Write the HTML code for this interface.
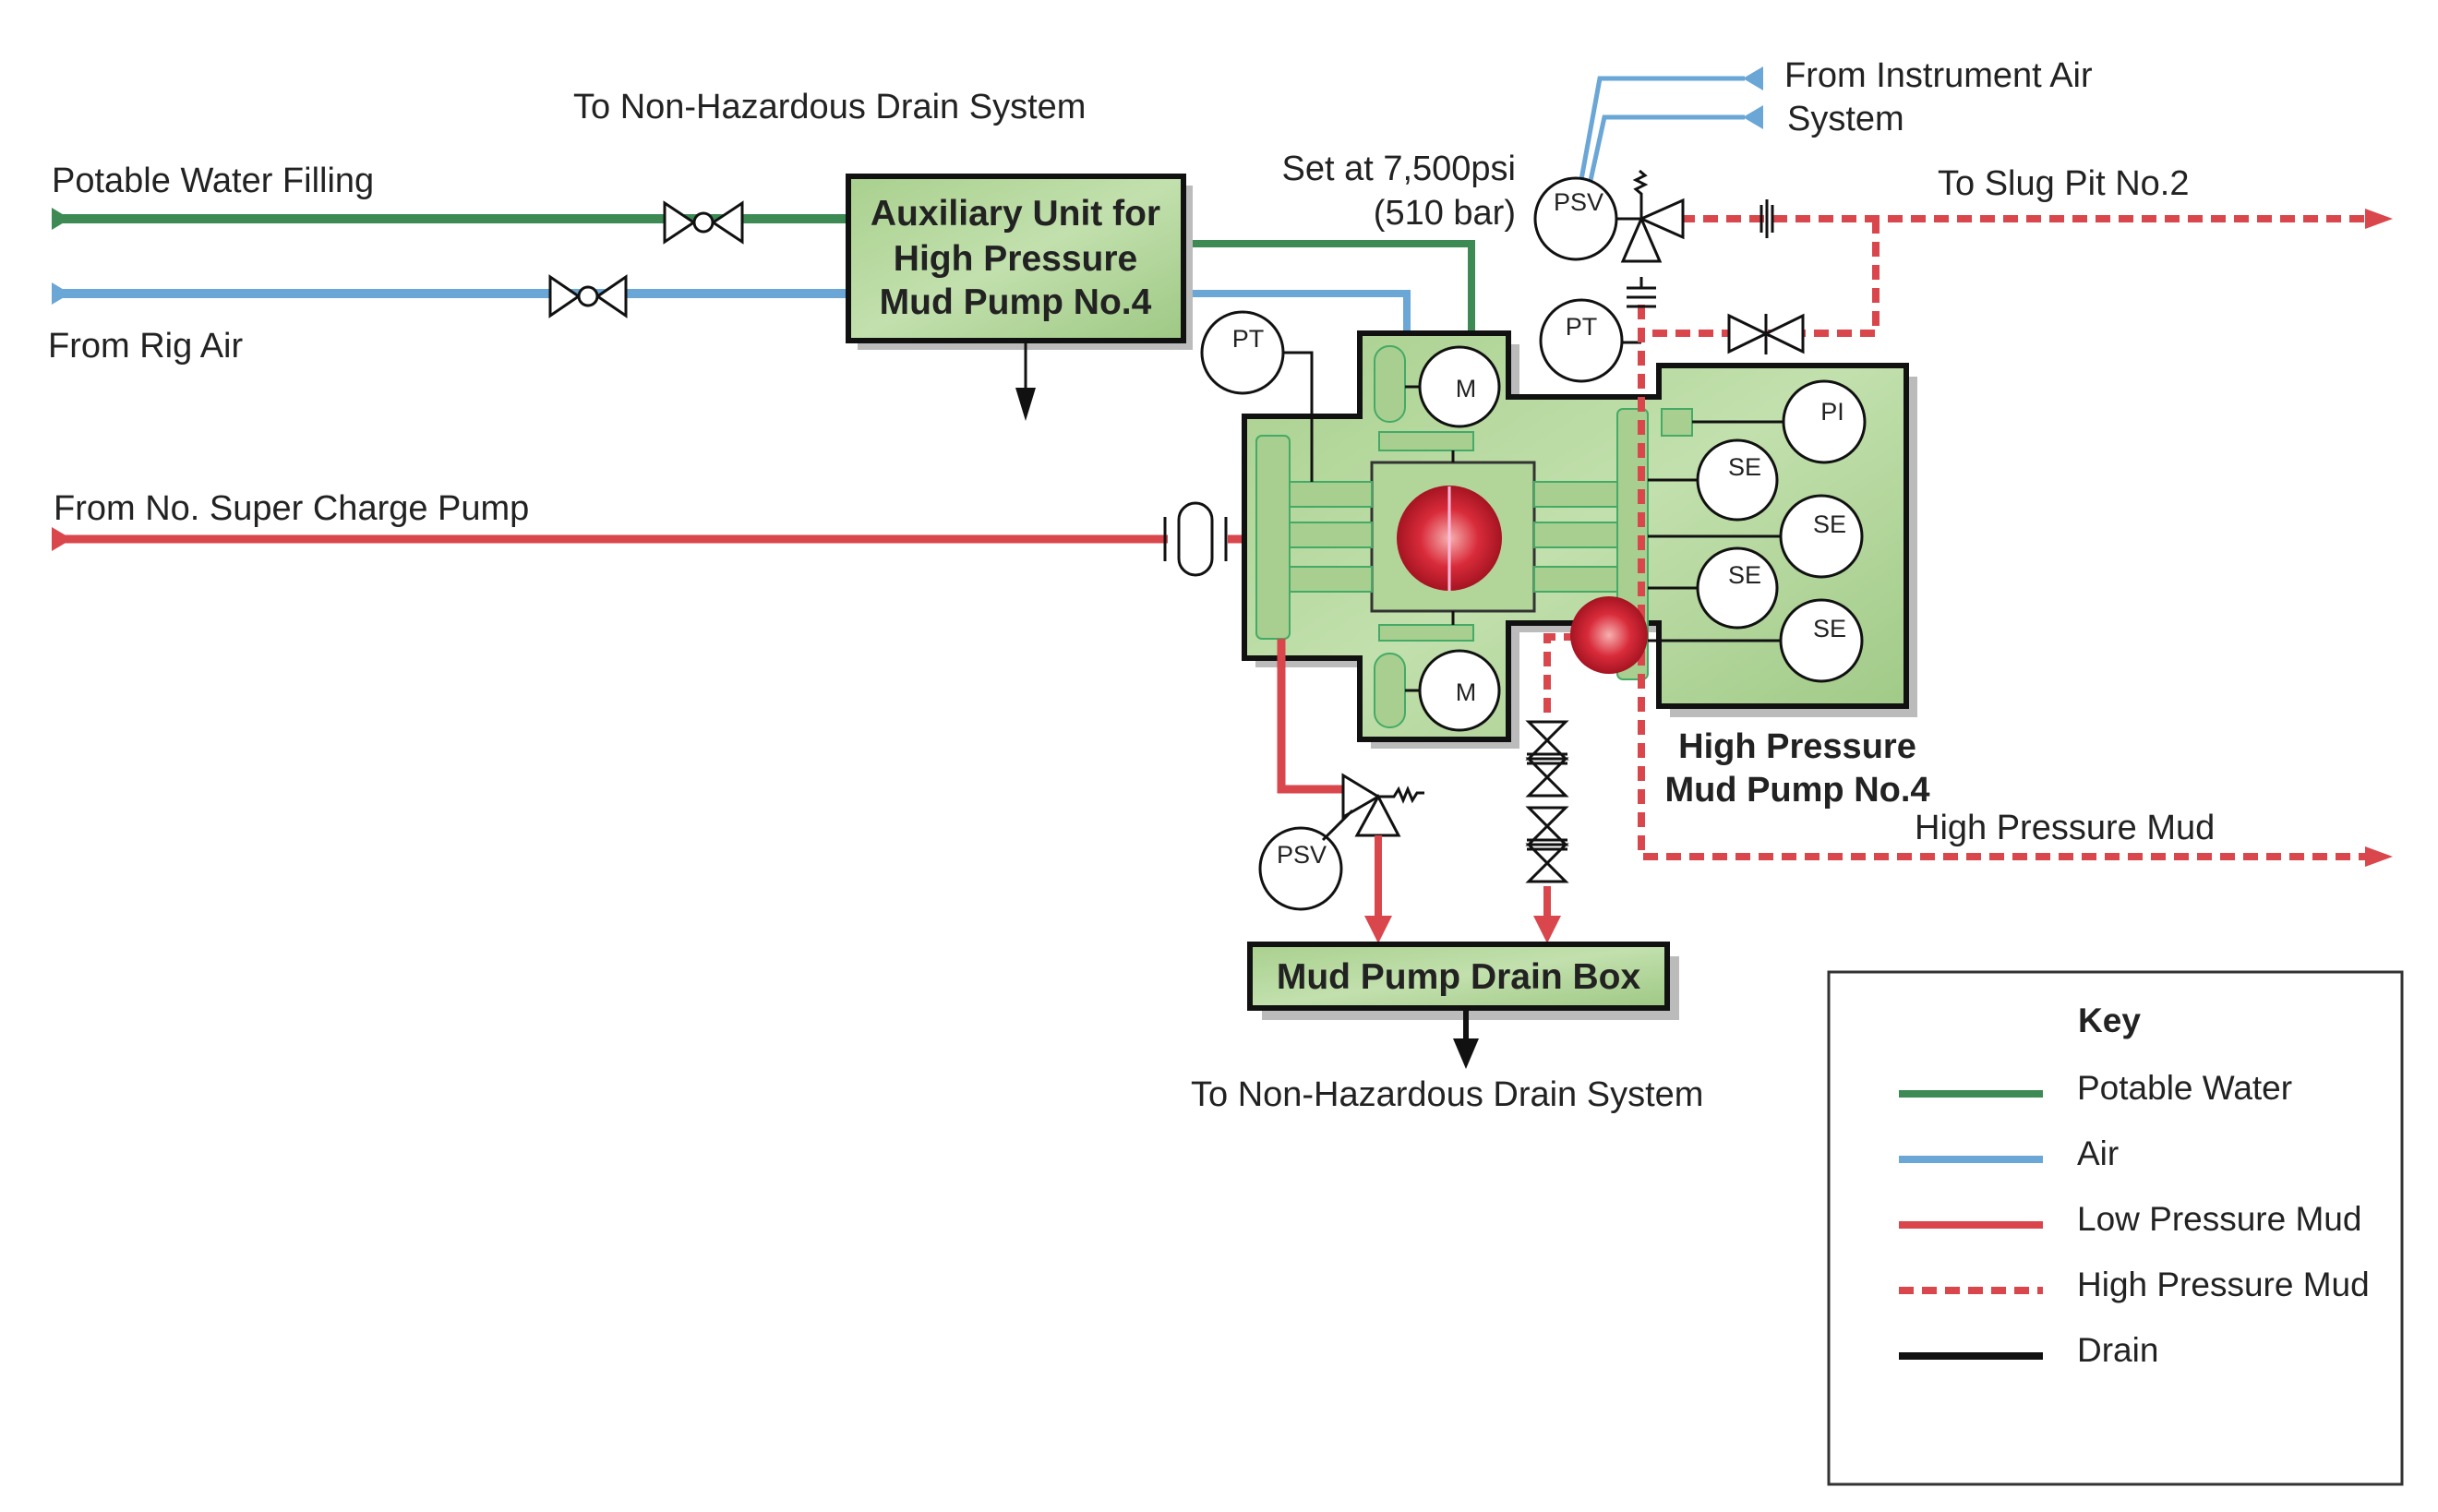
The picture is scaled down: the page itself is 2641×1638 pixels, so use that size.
<!DOCTYPE html>
<html><head><meta charset="utf-8"><style>
html,body{margin:0;padding:0;background:#fff;}
svg{display:block;}
text{font-family:"Liberation Sans",Arial,sans-serif;fill:#222;}
</style></head><body>
<svg width="2641" height="1638" viewBox="0 0 2641 1638" xmlns="http://www.w3.org/2000/svg">
<defs>
<linearGradient id="g" x1="0" y1="0" x2="1" y2="1"><stop offset="0" stop-color="#a9d08e"/><stop offset="0.5" stop-color="#c2e0ad"/><stop offset="1" stop-color="#9ec884"/></linearGradient>
<radialGradient id="r" cx="0.5" cy="0.5" r="0.55"><stop offset="0" stop-color="#f6b0b0"/><stop offset="0.5" stop-color="#d92b3a"/><stop offset="1" stop-color="#9a0f1c"/></radialGradient>
</defs>
<g font-size="38">
<text x="621" y="128">To Non-Hazardous Drain System</text>
<text x="56" y="208">Potable Water Filling</text>
<text x="52" y="387">From Rig Air</text>
<text x="58" y="563">From No.   Super Charge Pump</text>
<text x="1642" y="195" text-anchor="end">Set at 7,500psi</text>
<text x="1642" y="243" text-anchor="end">(510 bar)</text>
<text x="1933" y="94">From Instrument Air</text>
<text x="1936" y="141">System</text>
<text x="2099" y="211">To Slug Pit No.2</text>
<text x="2074" y="909">High Pressure Mud</text>
<text x="1290" y="1198">To Non-Hazardous Drain System</text>
</g>
<!-- green line -->
<path d="M59 237 H919" stroke="#3d8a55" stroke-width="10" fill="none"/>
<path d="M56 225 L76 237 L56 249Z" fill="#3d8a55"/>
<path d="M1282 264 H1594 V364" stroke="#3d8a55" stroke-width="8" fill="none"/>
<!-- blue -->
<path d="M59 318 H919" stroke="#6aa6d6" stroke-width="10" fill="none"/>
<path d="M56 306 L76 318 L56 330Z" fill="#6aa6d6"/>
<path d="M1282 318 H1524 V364" stroke="#6aa6d6" stroke-width="8" fill="none"/>
<path d="M1712 200 L1733 85 H1890 M1722 200 L1738 127 H1890" stroke="#6aa6d6" stroke-width="5" fill="none"/>
<path d="M1910 72 L1888 85 L1910 98Z M1910 114 L1888 127 L1910 140Z" fill="#6aa6d6"/>
<!-- valves -->
<g fill="#fff" stroke="#111" stroke-width="3">
<path d="M720 220 L762 248 L804 220 V262 L762 234 L720 262Z"/>
<circle cx="762" cy="241" r="10"/>
<path d="M596 300 L637 328 L678 300 V342 L637 314 L596 342Z"/>
<circle cx="637" cy="321" r="10"/>
</g>
<!-- red LP line -->
<path d="M59 584 H1265" stroke="#d9464b" stroke-width="9"/>
<path d="M56 571 L78 584 L56 597Z" fill="#d9464b"/>
<path d="M1330 584 H1350" stroke="#d9464b" stroke-width="9"/>
<g fill="none" stroke="#111" stroke-width="3">
<path d="M1262 560 V608 M1328 560 V608"/>
<rect x="1277" y="545" width="36" height="78" rx="18" fill="#fff"/>
</g>
<!-- aux box -->
<rect x="929" y="201" width="363" height="178" fill="#bbb"/>
<rect x="919" y="191" width="363" height="178" fill="url(#g)" stroke="#111" stroke-width="6"/>
<g font-size="39" font-weight="bold" text-anchor="middle"><text x="1100" y="244">Auxiliary Unit for</text><text x="1100" y="293">High Pressure</text><text x="1100" y="340">Mud Pump No.4</text></g>
<path d="M1111 369 V425" stroke="#111" stroke-width="3"/><path d="M1100 420 L1111 456 L1122 420Z" fill="#111"/>
<!-- pump shadow -->
<path d="M1485 373 H1646 V440 H1809 V408 H2077 V777 H1809 V685 H1646 V811 H1485 V723 H1360 V463 H1485Z" fill="#bbb"/>
<!-- pump body -->
<path d="M1473 361 H1634 V430 H1797 V396 H2065 V765 H1797 V675 H1634 V801 H1473 V713 H1348 V451 H1473Z" fill="url(#g)" stroke="#111" stroke-width="6"/>
<rect x="1486" y="501" width="176" height="161" fill="#b2d69a" stroke="#333" stroke-width="3"/>
<g fill="#a9cf90" stroke="#4a6" stroke-width="2">
<rect x="1397" y="522" width="89" height="27"/><rect x="1397" y="566" width="89" height="27"/><rect x="1397" y="614" width="89" height="27"/>
<rect x="1662" y="522" width="90" height="27"/><rect x="1662" y="566" width="90" height="27"/><rect x="1662" y="614" width="90" height="27"/>
<rect x="1361" y="472" width="36" height="220" rx="6"/>
<rect x="1752" y="443" width="33" height="293" rx="6"/>
<rect x="1800" y="443" width="33" height="29"/>
<rect x="1494" y="468" width="102" height="20"/><rect x="1494" y="677" width="102" height="17"/>
<rect x="1489" y="375" width="33" height="82" rx="16"/><rect x="1489" y="708" width="33" height="80" rx="16"/>
</g>
<g stroke="#111" stroke-width="3" fill="none">
<path d="M1391 382 H1421 V522"/>
<path d="M1522 419 H1540 M1522 748 H1540 M1574 488 V501 M1574 662 V677"/>
<path d="M1833 457 H1935 M1785 520 H1840 M1785 581 H1930 M1785 637 H1840 M1785 694 H1930"/>
<path d="M1755 371 H1778"/>
</g>
<circle cx="1570" cy="583" r="57" fill="url(#r)"/>
<path d="M1570 527 V640" stroke="#fbd" stroke-width="3"/>
<!-- dashed HP -->
<g stroke="#d9464b" stroke-width="8" fill="none" stroke-dasharray="16 9">
<path d="M1820 237 H2570"/>
<path d="M2032 237 V361 H1778"/>
<path d="M1778 330 V928 H2570"/>
<path d="M1710 690 H1676 V790"/>
</g>
<path d="M2562 226 L2592 237 L2562 248Z M2562 917 L2592 928 L2562 939Z" fill="#d9464b"/>
<circle cx="1743" cy="688" r="42" fill="url(#r)"/>
<!-- circles -->
<g fill="#fff" stroke="#111" stroke-width="3">
<circle cx="1581" cy="419" r="43"/><circle cx="1581" cy="748" r="43"/>
<circle cx="1976" cy="457" r="44"/><circle cx="1882" cy="520" r="43"/><circle cx="1973" cy="581" r="44"/><circle cx="1882" cy="637" r="43"/><circle cx="1973" cy="694" r="44"/>
<circle cx="1346" cy="382" r="44"/><circle cx="1713" cy="369" r="44"/><circle cx="1707" cy="237" r="44"/><circle cx="1409" cy="941" r="44"/>
</g>
<g font-size="27" text-anchor="middle">
<text x="1588" y="430">M</text><text x="1588" y="759">M</text>
<text x="1985" y="455">PI</text><text x="1890" y="515">SE</text><text x="1982" y="577">SE</text><text x="1890" y="632">SE</text><text x="1982" y="690">SE</text>
<text x="1352" y="376">PT</text><text x="1713" y="363">PT</text><text x="1710" y="228">PSV</text><text x="1410" y="935">PSV</text>
</g>
<!-- top PSV valve -->
<g fill="#fff" stroke="#111" stroke-width="3">
<path d="M1778 237 L1823 217 V257Z"/><path d="M1778 237 L1758 283 H1798Z"/>
<path d="M1778 237 V210 l-6 -5 l10 -5 l-10 -5 l10 -5 l-6 -5"/>
<path d="M1751 237 H1778"/>
<path d="M1908 222 V252 M1914 216 V258 M1920 222 V252"/>
<path d="M1762 312 H1794 M1762 322 H1794 M1762 332 H1794 M1778 300 V312"/>
<path d="M1873 342 L1953 381 V342 L1873 381Z"/><path d="M1913 340 V384"/>
</g>
<!-- LP relief -->
<path d="M1388 692 V855 H1455" stroke="#d9464b" stroke-width="9" fill="none"/>
<g fill="#fff" stroke="#111" stroke-width="3">
<path d="M1493 863 L1455 840 V885Z"/><path d="M1493 863 L1470 905 H1515Z"/>
<path d="M1493 863 H1510 l5 -8 l5 12 l5 -12 l5 12 l5 -8 h8"/>
<path d="M1433 910 L1465 878"/>
<path d="M1656 782 H1696 L1656 822 H1696Z M1656 822 H1696 L1656 862 H1696Z"/>
<path d="M1656 875 H1696 L1656 915 H1696Z M1656 915 H1696 L1656 955 H1696Z"/>
<path d="M1654 817 H1698 M1654 827 H1698 M1654 910 H1698 M1654 920 H1698"/>
</g>
<path d="M1493 905 V1000 M1676 960 V1000" stroke="#d9464b" stroke-width="8"/>
<path d="M1478 992 L1493 1022 L1508 992Z M1661 992 L1676 1022 L1691 992Z" fill="#d9464b"/>
<!-- drain box -->
<rect x="1367" y="1036" width="452" height="69" fill="#bbb"/>
<rect x="1354" y="1023" width="452" height="69" fill="url(#g)" stroke="#111" stroke-width="6"/>
<text x="1580" y="1071" font-size="39" font-weight="bold" text-anchor="middle">Mud Pump Drain Box</text>
<path d="M1588 1092 V1130" stroke="#111" stroke-width="6"/><path d="M1574 1125 L1588 1158 L1602 1125Z" fill="#111"/>
<g font-size="38" font-weight="bold" text-anchor="middle"><text x="1947" y="821">High Pressure</text><text x="1947" y="868">Mud Pump No.4</text></g>
<!-- key -->
<rect x="1981" y="1053" width="621" height="555" fill="#fff" stroke="#333" stroke-width="3"/>
<text x="2285" y="1118" font-size="37" font-weight="bold" text-anchor="middle">Key</text>
<path d="M2057 1185 H2213" stroke="#3d8a55" stroke-width="8"/>
<path d="M2057 1256 H2213" stroke="#6aa6d6" stroke-width="8"/>
<path d="M2057 1327 H2213" stroke="#d9464b" stroke-width="8"/>
<path d="M2057 1398 H2213" stroke="#d9464b" stroke-width="8" stroke-dasharray="16 9"/>
<path d="M2057 1469 H2213" stroke="#111" stroke-width="8"/>
<g font-size="37"><text x="2250" y="1191">Potable Water</text><text x="2250" y="1262">Air</text><text x="2250" y="1333">Low Pressure Mud</text><text x="2250" y="1404">High Pressure Mud</text><text x="2250" y="1475">Drain</text></g>
</svg>
</body></html>
